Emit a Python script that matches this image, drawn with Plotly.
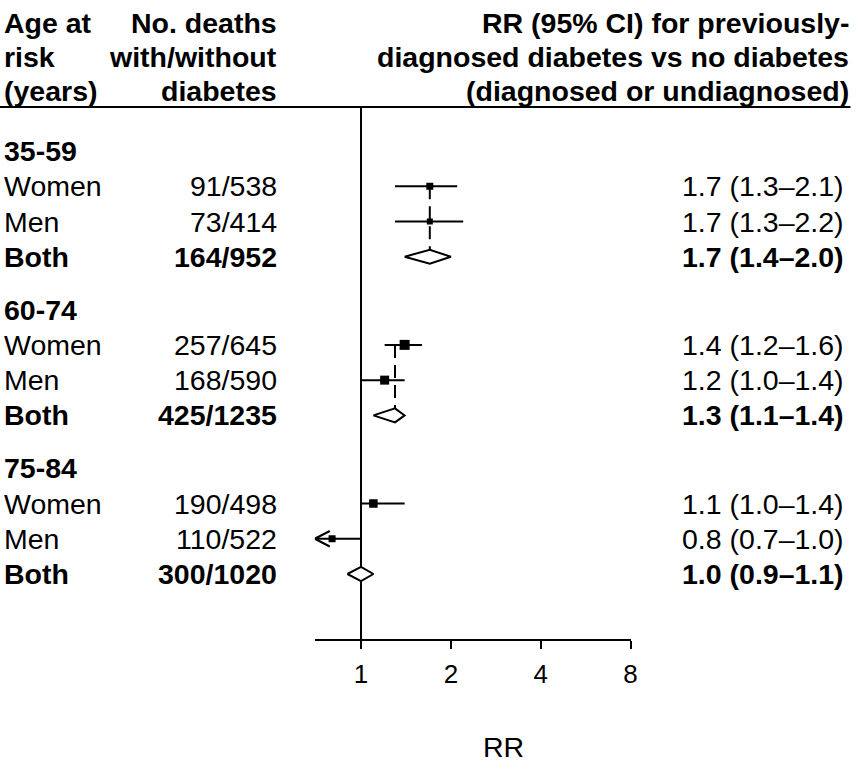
import math
import plotly.graph_objects as go

# ---- data -------------------------------------------------------------
age_groups = ["35-59", "60-74", "75-84"]
row_names = ["Women", "Men", "Both"]
deaths_with = [[91, 73, 164], [257, 168, 425], [190, 110, 300]]
deaths_without = [[538, 414, 952], [645, 590, 1235], [498, 522, 1020]]
rr_est = [[1.7, 1.7, 1.7], [1.4, 1.2, 1.3], [1.1, 0.8, 1.0]]
rr_lo = [[1.3, 1.3, 1.4], [1.2, 1.0, 1.1], [1.0, 0.7, 0.9]]
rr_hi = [[2.1, 2.2, 2.0], [1.6, 1.4, 1.4], [1.4, 1.0, 1.1]]
x_ticks = [1, 2, 4, 8]
x_min, x_max = 0.7, 8

header_left = ["Age at", "risk", "(years)"]
header_mid = ["No. deaths", "with/without", "diabetes"]
header_right = ["RR (95% CI) for previously-",
                "diagnosed diabetes vs no diabetes",
                "(diagnosed or undiagnosed)"]

# ---- styling ----------------------------------------------------------
W, H = 862, 769
FONT = "Liberation Sans, Arial, sans-serif"
FS = 28.5
LW = 2
square_px = [[7, 6], [10, 9], [8.5, 7]]   # box sizes for the sex-specific rows
row_px = 35.25                             # row pitch
row0_px = 151                              # first group header
axis_px = 639                              # x-axis line
plot_left_px, plot_right_px = 315, 631
x_stretch = 1.0075                         # horizontal layout stretch
group_step = 4.5
diamond_half = 0.2
arrow_len = 2 ** (15 / 90)
arrow_half = 0.22


def px_to_row(p):
    return (p - row0_px) / row_px


def px_to_paper(p):
    return p * x_stretch / W


fig = go.Figure()
ann = []


def line(xs, ys, dash=None, width=LW):
    fig.add_trace(go.Scatter(
        x=xs, y=ys, mode="lines", cliponaxis=False, hoverinfo="skip",
        line=dict(color="black", width=width, dash=dash), showlegend=False))


def text(x_px, y, s, anchor, bold=False, size=FS):
    ann.append(dict(
        x=px_to_paper(x_px), xref="paper", y=y, yref="y", xanchor=anchor,
        yanchor="middle", showarrow=False,
        text=f"<b>{s}</b>" if bold else s,
        font=dict(family=FONT, size=size, color="black")))


# header
for k in range(3):
    yh = px_to_row([23, 57, 91][k])
    text(2, yh, header_left[k], "left", bold=True)
    text(279, yh, header_mid[k], "right", bold=True)
    text(852, yh, header_right[k], "right", bold=True)

header_line_y = px_to_row(107)
bottom_y = px_to_row(axis_px)
fig.add_shape(type="line", xref="paper", yref="y", x0=0, x1=px_to_paper(851),
              y0=header_line_y, y1=header_line_y,
              line=dict(color="black", width=LW))

# reference line at RR = 1
line([1, 1], [header_line_y, bottom_y])

for g, grp in enumerate(age_groups):
    y0 = g * group_step
    text(2, y0, grp, "left", bold=True)
    for j, name in enumerate(row_names):
        y = y0 + 1 + j
        est, lo, hi = rr_est[g][j], rr_lo[g][j], rr_hi[g][j]
        bold = name == "Both"
        text(2, y, name, "left", bold=bold)
        text(279, y, f"{deaths_with[g][j]}/{deaths_without[g][j]}", "right", bold=bold)
        text(847, y, f"{est:.1f} ({lo:.1f}\u2013{hi:.1f})", "right", bold=bold)
        if bold:
            # pooled estimate: open diamond plus dashed guide
            top = y - diamond_half
            line([est, est], [y0 + 1, top], dash="13px,7px")
            fig.add_trace(go.Scatter(
                x=[lo, est, hi, est, lo], y=[y, top, y, y + diamond_half, y],
                mode="lines", cliponaxis=False, hoverinfo="skip",
                line=dict(color="black", width=LW), fill="toself",
                fillcolor="white", showlegend=False))
        else:
            line([lo, hi], [y, y])
            if lo <= x_min:
                line([lo * arrow_len, lo, lo * arrow_len],
                     [y - arrow_half, y, y + arrow_half])
            fig.add_trace(go.Scatter(
                x=[est], y=[y], mode="markers", cliponaxis=False,
                hoverinfo="skip", showlegend=False,
                marker=dict(symbol="square", size=square_px[g][j],
                            color="black", line=dict(width=0))))

# x-axis title
ann.append(dict(x=px_to_paper(504), xref="paper", y=(H - 747) / H, yref="paper",
                xanchor="center", yanchor="middle", showarrow=False,
                text="RR", font=dict(family=FONT, size=FS, color="black")))

fig.update_layout(
    width=W, height=H, margin=dict(l=0, r=0, t=0, b=0),
    paper_bgcolor="white", plot_bgcolor="white", showlegend=False,
    annotations=ann,
    xaxis=dict(type="log", range=[math.log10(x_min), math.log10(x_max)],
               domain=[px_to_paper(plot_left_px), px_to_paper(plot_right_px)],
               tickvals=x_ticks, ticktext=[str(t) for t in x_ticks],
               showline=True, linecolor="black", linewidth=LW,
               ticks="outside", ticklen=8, tickwidth=LW, tickcolor="black",
               showgrid=False, zeroline=False, ticklabelstandoff=3,
               tickfont=dict(family=FONT, size=26, color="black")),
    yaxis=dict(range=[bottom_y, px_to_row(0)], visible=False,
               domain=[(H - axis_px) / H, 1], showgrid=False, zeroline=False),
)

fig.write_html("out.html")
